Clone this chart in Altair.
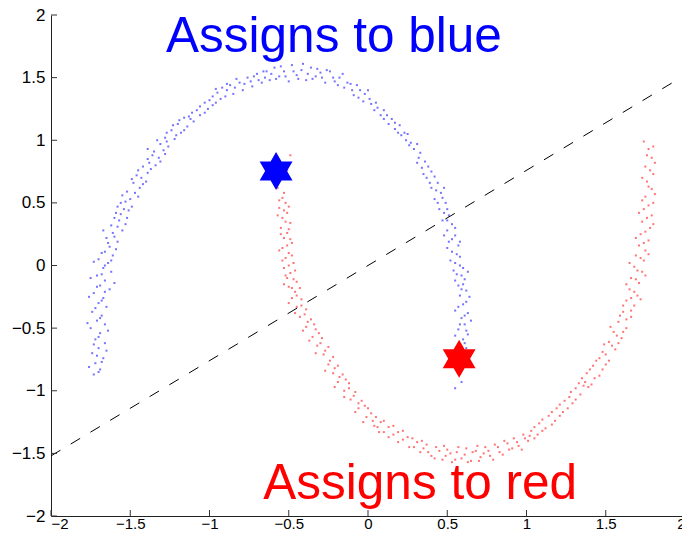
import altair as alt
import pandas as pd

TICKS = [-2, -1.5, -1, -0.5, 0, 0.5, 1, 1.5, 2]

BLUE_POINTS = [
    (-1.73, -0.87), (-1.69, -0.83), (-1.72, -0.78), (-1.67, -0.74), (-1.74, -0.70), (-1.70, -0.66),
    (-1.66, -0.62), (-1.72, -0.59), (-1.69, -0.54), (-1.75, -0.50), (-1.66, -0.47), (-1.71, -0.44),
    (-1.68, -0.40), (-1.74, -0.37), (-1.65, -0.33), (-1.70, -0.30), (-1.67, -0.26), (-1.73, -0.22),
    (-1.63, -0.19), (-1.69, -0.16), (-1.66, -0.12), (-1.71, -0.08), (-1.62, -0.05), (-1.67, -0.02),
    (-1.64, 0.02), (-1.70, 0.05), (-1.61, 0.08), (-1.66, 0.11), (-1.63, 0.15),
    (-1.70, -0.85), (-1.76, -0.81), (-1.68, -0.77), (-1.71, -0.72), (-1.65, -0.68), (-1.73, -0.63),
    (-1.70, -0.57), (-1.64, -0.52), (-1.77, -0.46), (-1.69, -0.42), (-1.72, -0.34), (-1.68, -0.28),
    (-1.76, -0.25), (-1.66, -0.21), (-1.71, -0.17), (-1.60, -0.14), (-1.75, -0.10), (-1.68, -0.07),
    (-1.66, 0.00), (-1.73, 0.03), (-1.62, 0.04), (-1.68, 0.10), (-1.59, 0.13),
    (-1.58, 0.19), (-1.65, 0.22), (-1.61, 0.26), (-1.55, 0.28), (-1.62, 0.32), (-1.57, 0.36),
    (-1.52, 0.38), (-1.59, 0.42), (-1.54, 0.45), (-1.49, 0.47), (-1.56, 0.50),
    (-1.64, 0.18), (-1.60, 0.23), (-1.67, 0.28), (-1.58, 0.31), (-1.53, 0.33), (-1.60, 0.38),
    (-1.56, 0.41), (-1.51, 0.44), (-1.58, 0.47), (-1.53, 0.51),
    (-1.50, 0.53), (-1.45, 0.55), (-1.52, 0.59), (-1.44, 0.62), (-1.48, 0.66), (-1.40, 0.67),
    (-1.46, 0.72), (-1.39, 0.74), (-1.42, 0.79), (-1.34, 0.80), (-1.39, 0.85), (-1.32, 0.86),
    (-1.35, 0.91), (-1.29, 0.92),
    (-1.47, 0.58), (-1.55, 0.56), (-1.42, 0.65), (-1.49, 0.69), (-1.43, 0.70), (-1.37, 0.77),
    (-1.45, 0.76), (-1.38, 0.82), (-1.31, 0.83), (-1.36, 0.88), (-1.28, 0.89), (-1.39, 0.93),
    (-1.31, 0.97), (-1.26, 0.95), (-1.28, 1.02), (-1.22, 1.01), (-1.24, 1.08), (-1.18, 1.06),
    (-1.20, 1.13), (-1.14, 1.11), (-1.16, 1.18),
    (-1.33, 1.00), (-1.27, 0.99), (-1.21, 1.04), (-1.27, 1.06), (-1.16, 1.08), (-1.23, 1.12),
    (-1.19, 1.16), (-1.12, 1.17),
    (-1.10, 1.15), (-1.11, 1.22), (-1.06, 1.20), (-1.06, 1.27), (-1.01, 1.25), (-1.00, 1.32),
    (-0.96, 1.30), (-0.95, 1.38), (-0.90, 1.35), (-0.92, 1.42),
    (-1.13, 1.19), (-1.08, 1.24), (-1.03, 1.22), (-1.03, 1.30), (-0.98, 1.28), (-0.98, 1.35),
    (-0.93, 1.33), (-0.89, 1.40), (-0.96, 1.41),
    (-0.87, 1.44), (-0.85, 1.37), (-0.81, 1.46), (-0.79, 1.40), (-0.76, 1.50), (-0.73, 1.43),
    (-0.70, 1.53), (-0.67, 1.46),
    (-0.89, 1.45), (-0.84, 1.42), (-0.83, 1.49), (-0.78, 1.45), (-0.74, 1.47), (-0.72, 1.51),
    (-0.69, 1.48), (-0.66, 1.55),
    (-0.64, 1.55), (-0.62, 1.48), (-0.59, 1.58), (-0.56, 1.51), (-0.53, 1.55), (-0.50, 1.47),
    (-0.48, 1.60), (-0.45, 1.52), (-0.42, 1.56), (-0.39, 1.48), (-0.36, 1.58), (-0.33, 1.51),
    (-0.30, 1.54), (-0.27, 1.46),
    (-0.65, 1.50), (-0.61, 1.53), (-0.58, 1.49), (-0.55, 1.59), (-0.52, 1.51), (-0.47, 1.55),
    (-0.44, 1.49), (-0.41, 1.61), (-0.38, 1.53), (-0.35, 1.49), (-0.32, 1.57), (-0.29, 1.50),
    (-0.26, 1.56),
    (-0.24, 1.55), (-0.21, 1.47), (-0.18, 1.50), (-0.15, 1.42), (-0.11, 1.45), (-0.09, 1.36),
    (-0.05, 1.40), (-0.03, 1.31), (0.01, 1.33), (0.04, 1.24),
    (-0.22, 1.50), (-0.19, 1.44), (-0.16, 1.53), (-0.13, 1.46), (-0.10, 1.40), (-0.07, 1.44),
    (-0.06, 1.34), (-0.02, 1.37), (0.02, 1.29), (0.00, 1.40),
    (0.05, 1.30), (0.08, 1.20), (0.10, 1.24), (0.13, 1.13), (0.15, 1.17), (0.19, 1.06),
    (0.20, 1.12), (0.24, 1.00), (0.23, 1.06), (0.29, 0.93), (0.27, 0.98),
    (0.06, 1.26), (0.10, 1.17), (0.12, 1.20), (0.17, 1.09), (0.17, 1.14), (0.21, 1.04),
    (0.25, 1.05), (0.26, 0.96), (0.31, 0.97),
    (0.32, 0.86), (0.36, 0.83), (0.34, 0.78), (0.40, 0.75), (0.37, 0.70), (0.44, 0.66),
    (0.40, 0.62), (0.46, 0.58), (0.42, 0.53), (0.49, 0.50), (0.45, 0.45), (0.51, 0.40),
    (0.33, 0.90), (0.31, 0.82), (0.38, 0.79), (0.35, 0.73), (0.42, 0.71), (0.39, 0.66),
    (0.43, 0.60), (0.48, 0.62), (0.44, 0.50), (0.47, 0.54), (0.50, 0.45), (0.48, 0.42),
    (0.47, 0.36), (0.53, 0.33), (0.50, 0.28), (0.55, 0.24), (0.51, 0.19), (0.57, 0.16),
    (0.53, 0.11), (0.58, 0.07), (0.55, 0.02), (0.60, -0.02), (0.56, -0.07), (0.61, -0.11),
    (0.57, -0.16),
    (0.50, 0.36), (0.55, 0.30), (0.48, 0.24), (0.53, 0.21), (0.58, 0.19), (0.50, 0.14),
    (0.56, 0.09), (0.52, 0.04), (0.58, 0.00), (0.54, -0.04), (0.59, -0.08), (0.63, -0.05),
    (0.55, -0.12), (0.60, -0.15),
    (0.62, -0.20), (0.58, -0.24), (0.62, -0.29), (0.57, -0.33), (0.63, -0.38), (0.59, -0.42),
    (0.61, -0.47), (0.57, -0.51), (0.63, -0.55), (0.60, -0.59), (0.58, -0.63), (0.59, -0.93),
    (0.55, -0.98),
    (0.59, -0.19), (0.64, -0.25), (0.60, -0.31), (0.55, -0.36), (0.61, -0.40), (0.65, -0.44),
    (0.58, -0.47), (0.62, -0.52), (0.55, -0.56), (0.61, -0.62), (0.62, -0.66),
]

RED_POINTS = [
    (-0.49, 0.88), (-0.51, 0.76), (-0.57, 0.62),
    (-0.54, 0.54), (-0.52, 0.50), (-0.56, 0.46), (-0.51, 0.42), (-0.54, 0.38), (-0.49, 0.34),
    (-0.55, 0.30), (-0.51, 0.26), (-0.53, 0.22), (-0.48, 0.18), (-0.54, 0.14), (-0.50, 0.10),
    (-0.52, 0.06), (-0.47, 0.02), (-0.53, -0.02), (-0.49, -0.06), (-0.51, -0.10), (-0.45, -0.13),
    (-0.50, -0.17), (-0.46, -0.21),
    (-0.53, 0.58), (-0.56, 0.52), (-0.50, 0.47), (-0.53, 0.44), (-0.57, 0.40), (-0.52, 0.35),
    (-0.50, 0.29), (-0.55, 0.25), (-0.49, 0.21), (-0.51, 0.16), (-0.56, 0.12), (-0.48, 0.08),
    (-0.54, 0.04), (-0.50, 0.00), (-0.46, -0.04), (-0.52, -0.08), (-0.47, -0.11), (-0.53, -0.15),
    (-0.48, -0.18), (-0.43, -0.18),
    (-0.48, -0.26), (-0.42, -0.27), (-0.45, -0.33), (-0.39, -0.35), (-0.43, -0.41), (-0.36, -0.43),
    (-0.39, -0.49), (-0.33, -0.51), (-0.35, -0.57), (-0.29, -0.58), (-0.32, -0.64), (-0.25, -0.65),
    (-0.28, -0.71), (-0.22, -0.73),
    (-0.45, -0.24), (-0.50, -0.30), (-0.42, -0.32), (-0.40, -0.39), (-0.46, -0.38), (-0.38, -0.45),
    (-0.34, -0.47), (-0.41, -0.52), (-0.31, -0.54), (-0.37, -0.60), (-0.30, -0.62), (-0.27, -0.68),
    (-0.33, -0.70), (-0.24, -0.76),
    (-0.25, -0.79), (-0.19, -0.80), (-0.22, -0.86), (-0.16, -0.87), (-0.19, -0.93), (-0.12, -0.94),
    (-0.15, -1.00), (-0.08, -1.01), (-0.11, -1.07), (-0.04, -1.08), (-0.06, -1.14), (0.00, -1.14),
    (-0.01, -1.21), (0.05, -1.21), (0.04, -1.28),
    (-0.21, -0.82), (-0.27, -0.84), (-0.18, -0.89), (-0.14, -0.91), (-0.21, -0.97), (-0.12, -0.98),
    (-0.09, -1.04), (-0.15, -1.05), (-0.06, -1.10), (-0.02, -1.12), (-0.08, -1.17), (0.02, -1.18),
    (0.03, -1.24), (-0.03, -1.25),
    (0.08, -1.25), (0.07, -1.33), (0.13, -1.29), (0.13, -1.37), (0.19, -1.33), (0.19, -1.41),
    (0.25, -1.37), (0.26, -1.45), (0.31, -1.41), (0.33, -1.49), (0.37, -1.43), (0.40, -1.52),
    (0.43, -1.45),
    (0.06, -1.29), (0.10, -1.24), (0.10, -1.33), (0.16, -1.35), (0.16, -1.28), (0.22, -1.39),
    (0.22, -1.32), (0.29, -1.45), (0.28, -1.38), (0.35, -1.46), (0.34, -1.40), (0.38, -1.49),
    (0.42, -1.54), (0.45, -1.48),
    (0.47, -1.55), (0.50, -1.47), (0.53, -1.57), (0.56, -1.49), (0.59, -1.54), (0.62, -1.46),
    (0.65, -1.56), (0.68, -1.48), (0.71, -1.53), (0.74, -1.45), (0.77, -1.52), (0.80, -1.43),
    (0.83, -1.49), (0.86, -1.40), (0.89, -1.47), (0.92, -1.38), (0.95, -1.44), (0.98, -1.35),
    (0.49, -1.52), (0.48, -1.44), (0.52, -1.50), (0.55, -1.55), (0.57, -1.45), (0.61, -1.51),
    (0.63, -1.57), (0.66, -1.49), (0.69, -1.44), (0.70, -1.56), (0.73, -1.50), (0.76, -1.48),
    (0.79, -1.55), (0.82, -1.45), (0.85, -1.51), (0.88, -1.42), (0.91, -1.46), (0.94, -1.41),
    (0.97, -1.47), (0.99, -1.38),
    (1.01, -1.40), (1.03, -1.32), (1.07, -1.35), (1.08, -1.26), (1.12, -1.30), (1.14, -1.20),
    (1.18, -1.24), (1.19, -1.14), (1.23, -1.17), (1.24, -1.08), (1.29, -1.10), (1.28, -1.01),
    (1.34, -1.03), (1.33, -0.94),
    (1.02, -1.36), (1.05, -1.38), (1.05, -1.29), (1.10, -1.32), (1.10, -1.23), (1.16, -1.27),
    (1.16, -1.17), (1.21, -1.20), (1.21, -1.11), (1.26, -1.14), (1.27, -1.05), (1.31, -1.07),
    (1.31, -0.98), (1.36, -0.96),
    (1.39, -0.97), (1.35, -0.90), (1.43, -0.90), (1.40, -0.83), (1.48, -0.83), (1.44, -0.76),
    (1.52, -0.76), (1.48, -0.69), (1.56, -0.67), (1.52, -0.61), (1.60, -0.58), (1.55, -0.53),
    (1.63, -0.50), (1.58, -0.45),
    (1.37, -0.93), (1.41, -0.95), (1.38, -0.86), (1.46, -0.88), (1.42, -0.80), (1.46, -0.74),
    (1.50, -0.79), (1.50, -0.71), (1.54, -0.64), (1.49, -0.63), (1.58, -0.62), (1.57, -0.56),
    (1.53, -0.49), (1.61, -0.53),
    (1.66, -0.41), (1.61, -0.37), (1.68, -0.32), (1.63, -0.28), (1.70, -0.24), (1.65, -0.19),
    (1.71, -0.14), (1.66, -0.10), (1.73, -0.05), (1.68, -0.01), (1.74, 0.04), (1.69, 0.08),
    (1.75, 0.12),
    (1.63, -0.43), (1.59, -0.40), (1.66, -0.36), (1.61, -0.32), (1.66, -0.26), (1.72, -0.27),
    (1.68, -0.21), (1.63, -0.15), (1.69, -0.11), (1.75, -0.08), (1.70, -0.04), (1.65, 0.02),
    (1.72, 0.06), (1.77, 0.09),
    (1.71, 0.16), (1.77, 0.20), (1.72, 0.25), (1.78, 0.30), (1.73, 0.35), (1.79, 0.40),
    (1.74, 0.45), (1.80, 0.50), (1.75, 0.55), (1.79, 0.61), (1.76, 0.67), (1.80, 0.73),
    (1.75, 0.79), (1.79, 0.86), (1.77, 0.93), (1.74, 0.99),
    (1.74, 0.18), (1.69, 0.22), (1.75, 0.27), (1.80, 0.33), (1.76, 0.38), (1.71, 0.42),
    (1.77, 0.48), (1.73, 0.52), (1.81, 0.57), (1.77, 0.63), (1.73, 0.70), (1.78, 0.76),
    (1.81, 0.82), (1.76, 0.88), (1.80, 0.95),
]

STAR_X = [-0.58, 0.575]
STAR_Y = [0.755, -0.745]
STAR_COLOR = ["#0000ff", "#ff0000"]

LINE_X = [-2, 2]
LINE_Y = [-1.52, 1.52]

TEXT = ["Assigns to blue", "Assigns to red"]
TEXT_X = [-0.215, 0.329]
TEXT_Y = [1.707, -1.864]
TEXT_COLOR = ["#0000ff", "#ff0000"]

# plot range spans 634 px for x in [-2, 2]; the drawn view is cut at 631 px so the page
# does not overflow the 690 px window (the reference is cropped at its right edge too)
W_VIEW, W_RANGE, H = 631, 634, 501
FONT = "Liberation Sans"
STAR_PATH = ("M0,-1L0.2887,-0.5L0.866,-0.5L0.577,0L0.866,0.5L0.2887,0.5L0,1"
             "L-0.2887,0.5L-0.866,0.5L-0.577,0L-0.866,-0.5L-0.2887,-0.5Z")

xs = alt.Scale(domain=[-2, 2], nice=False, zero=False, range=[0, W_RANGE])
ys = alt.Scale(domain=[-2, 2], nice=False, zero=False)

axis_common = dict(values=TICKS, format="~g", ticks=False, tickSize=0, grid=False,
                   domainColor="#222222", domainWidth=1, labelFont=FONT,
                   labelColor="black", title=None)
AX = alt.Axis(labelPadding=0, labelFontSize=15, **axis_common)
AY = alt.Axis(labelPadding=6, labelFontSize=17, **axis_common)


def X(field):
    return alt.X(field, scale=xs, axis=AX)


def Y(field):
    return alt.Y(field, scale=ys, axis=AY)


rows = [{"x": p[0], "y": p[1], "c": "#0000ff"} for p in BLUE_POINTS] + \
       [{"x": p[0], "y": p[1], "c": "#ff0000"} for p in RED_POINTS]
pts_df = pd.DataFrame(rows)

points = alt.Chart(pts_df).mark_square(size=4, opacity=0.55).encode(
    x=X("x:Q"), y=Y("y:Q"), color=alt.Color("c:N", scale=None),
)

line_df = pd.DataFrame({"x": LINE_X, "y": LINE_Y})
line = alt.Chart(line_df).mark_line(color="black", strokeWidth=1, strokeDash=[11, 12]).encode(
    x=X("x:Q"), y=Y("y:Q"),
)

star_df = pd.DataFrame({"x": STAR_X, "y": STAR_Y, "c": STAR_COLOR})
stars = alt.Chart(star_df).mark_point(shape=STAR_PATH, filled=True, size=1440, opacity=1,
                                      strokeWidth=0).encode(
    x=X("x:Q"), y=Y("y:Q"), color=alt.Color("c:N", scale=None),
)

text_df = pd.DataFrame({"x": TEXT_X, "y": TEXT_Y, "t": TEXT, "c": TEXT_COLOR})
texts = alt.Chart(text_df).mark_text(font=FONT, fontSize=49.5, baseline="alphabetic",
                                     align="center").encode(
    x=X("x:Q"), y=Y("y:Q"), text="t:N", color=alt.Color("c:N", scale=None),
)

tick_df = pd.DataFrame({"t": TICKS})
xticks = alt.Chart(tick_df).mark_rule(color="#333333", strokeWidth=1).encode(
    x=X("t:Q"), y=alt.value(H), y2=alt.value(H - 6),
)
yticks = alt.Chart(tick_df).mark_rule(color="#333333", strokeWidth=1).encode(
    y=Y("t:Q"), x=alt.value(0), x2=alt.value(6),
)

chart = alt.layer(points, line, stars, texts, xticks, yticks).properties(
    width=W_VIEW, height=H,
    autosize=alt.AutoSizeParams(type="none"),
    padding={"left": 43, "top": 7, "right": 0, "bottom": 13},
    background="white",
).configure_view(stroke=None)

chart.save("out.html", embed_options={"renderer": "svg", "actions": False})
